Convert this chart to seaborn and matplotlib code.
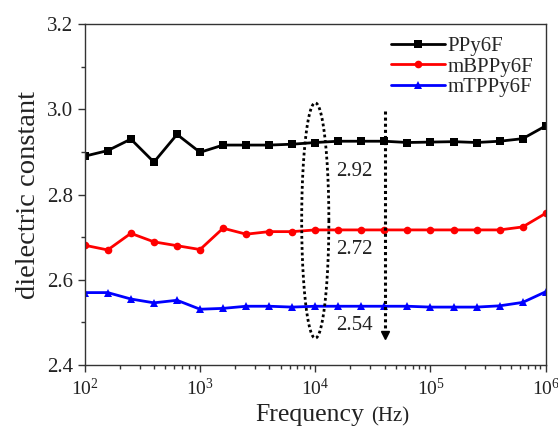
import numpy as np
import pandas as pd
import matplotlib
matplotlib.use("Agg")
import matplotlib.pyplot as plt
from matplotlib.ticker import LogLocator, MultipleLocator, NullFormatter
import seaborn as sns

# Data
freq = [100, 158, 251, 398, 631, 1000, 1585, 2512, 3981, 6310, 10000,
        15849, 25119, 39811, 63096, 100000, 158489, 251189, 398107, 630957, 1000000]
ppy6f = [2.890, 2.903, 2.930, 2.876, 2.941, 2.899, 2.916, 2.916, 2.916, 2.918, 2.922,
         2.925, 2.925, 2.925, 2.922, 2.923, 2.924, 2.922, 2.925, 2.931, 2.961]
mbppy6f = [2.681, 2.670, 2.709, 2.689, 2.680, 2.671, 2.721, 2.707, 2.713, 2.713, 2.717,
           2.717, 2.717, 2.717, 2.717, 2.717, 2.717, 2.717, 2.717, 2.724, 2.756]
mtppy6f = [2.570, 2.570, 2.555, 2.546, 2.552, 2.531, 2.533, 2.538, 2.538, 2.536, 2.538,
           2.538, 2.538, 2.538, 2.538, 2.536, 2.536, 2.536, 2.539, 2.547, 2.572]

names = ["PPy6F", "mBPPy6F", "mTPPy6F"]
colors = ["black", "red", "blue"]
markers = ["s", "o", "^"]

# annotation values
avg_labels = ["2.92", "2.72", "2.54"]
avg_label_y = [2.853, 2.670, 2.494]
label_x = 22000
arrow_x = 40000

sns.set_style("ticks")
plt.rcParams["font.family"] = ["Liberation Serif", "DejaVu Serif"]
plt.rcParams["mathtext.fontset"] = "custom"
plt.rcParams["mathtext.rm"] = "Liberation Serif"
plt.rcParams["axes.linewidth"] = 1.0
plt.rcParams["axes.edgecolor"] = "#333333"

fig, ax = plt.subplots(figsize=(5.58, 4.28), dpi=100)
fig.subplots_adjust(left=0.152, right=0.978, top=0.944, bottom=0.147)

for name, vals, c, m in zip(names, [ppy6f, mbppy6f, mtppy6f], colors, markers):
    df = pd.DataFrame({"freq": freq, "eps": vals})
    sns.lineplot(data=df, x="freq", y="eps", ax=ax, color=c, marker=m,
                 markersize=5.5, markeredgewidth=0, linewidth=2.0, label=name)

ax.set_xscale("log")
ax.set_xlim(100, 1e6)
ax.set_ylim(2.4, 3.2)
ax.yaxis.set_major_locator(MultipleLocator(0.2))
ax.yaxis.set_minor_locator(MultipleLocator(0.1))
ax.yaxis.set_major_formatter(matplotlib.ticker.FormatStrFormatter("%.1f"))
ax.xaxis.set_major_locator(LogLocator(base=10))
ax.xaxis.set_minor_locator(LogLocator(base=10, subs=np.arange(2, 10)))
ax.xaxis.set_minor_formatter(NullFormatter())
ax.tick_params(axis="both", which="major", direction="out", length=5, width=1,
               labelsize=15, colors="#333333", labelcolor="#222222")
ax.tick_params(axis="both", which="minor", direction="out", length=3, width=1, colors="#333333")
ax.tick_params(axis="x", which="major", labelsize=14, pad=4)

ax.set_xlabel("")
ax.set_ylabel("dielectric constant", fontsize=20.5, color="#222222", labelpad=4)
fig.text(255 / 558, 1 - 421 / 428, "Frequency", fontsize=18.5, ha="left", va="baseline", color="#222222")
fig.text(371 / 558, 1 - 421 / 428, "(Hz)", fontsize=15, ha="left", va="baseline", color="#222222")

# dotted ellipse around 10^4
t = np.linspace(0, 2 * np.pi, 200)
ax.plot(10 ** (4 + 0.118 * np.cos(t)), 2.739 + 0.276 * np.sin(t),
        color="black", linestyle=(0, (1, 1.0)), linewidth=2.0)

# dotted arrow
ax.plot([arrow_x, arrow_x], [2.995, 2.48], color="black", linestyle=(0, (1, 1.0)), linewidth=2.2)
ax.plot([arrow_x], [2.47], marker="v", color="black", markersize=6)

for txt, y in zip(avg_labels, avg_label_y):
    ax.text(label_x, y, txt, fontsize=15, ha="center", va="center", color="#222222")

leg = ax.legend(loc="upper right", frameon=False, fontsize=15, handlelength=2.6,
                handletextpad=0.1, labelspacing=0.05, borderaxespad=0.2)

plt.savefig("out.png", dpi=100)
